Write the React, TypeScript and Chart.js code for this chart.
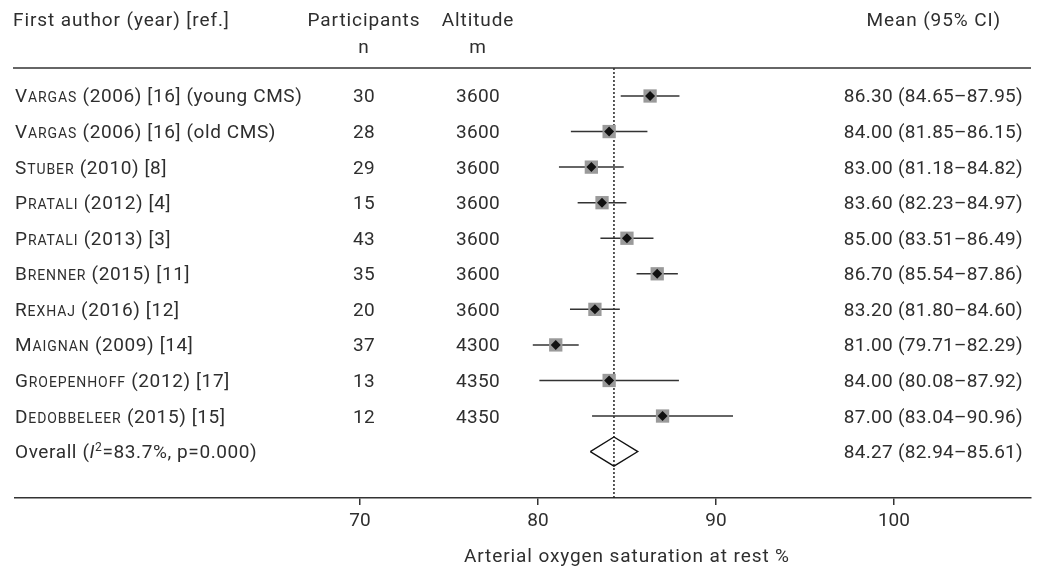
import React, { useEffect, useRef } from "react";
import { Chart, registerables } from "chart.js";

Chart.register(...registerables);

// ---------- data ----------
const authors = ["Vargas", "Vargas", "Stuber", "Pratali", "Pratali", "Brenner", "Rexhaj", "Maignan", "Groepenhoff", "Dedobbeleer"];
const authorSuffix = [
  " (2006) [16] (young CMS)",
  " (2006) [16] (old CMS)",
  " (2010) [8]",
  " (2012) [4]",
  " (2013) [3]",
  " (2015) [11]",
  " (2016) [12]",
  " (2009) [14]",
  " (2012) [17]",
  " (2015) [15]",
];
const participants = [30, 28, 29, 15, 43, 35, 20, 37, 13, 12];
const altitudes = [3600, 3600, 3600, 3600, 3600, 3600, 3600, 4300, 4350, 4350];
const means = [86.3, 84.0, 83.0, 83.6, 85.0, 86.7, 83.2, 81.0, 84.0, 87.0];
const lowerCI = [84.65, 81.85, 81.18, 82.23, 83.51, 85.54, 81.8, 79.71, 80.08, 83.04];
const upperCI = [87.95, 86.15, 84.82, 84.97, 86.49, 87.86, 84.6, 82.29, 87.92, 90.96];
const overallMean = 84.27;
const overallLower = 82.94;
const overallUpper = 85.61;
const overallI2 = "83.7%";
const overallP = "0.000";
const xTicks = [70, 80, 90, 100];
const xTitle = "Arterial oxygen saturation at rest %";

// ---------- style ----------
const FONT = 'Roboto, "DejaVu Sans", sans-serif';
const TEXT = "#2e2e2e";
const LINE = "#333333";
const SQUARE = "#9a9a9a";
const FS = 19;
const WORD_SP = "0.9px";
const SUFFIX_SP = "0.6px";
const NUM_SP = "0.3px";

const X_MIN = 50.62;
const X_MAX = 107.7;
const Y_MIN = 0.2126;
const Y_MAX = 12.305;
const overallRow = authors.length + 1;

const COL_NAME = 15;
const COL_N = 364;
const COL_ALT = 478;
const COL_VAL = 1023;

function fmt(v: number) {
  return v.toFixed(2);
}

function drawSmallCaps(ctx: any, word: string, x: number, y: number) {
  let cx = x;
  ctx.font = `${FS}px ${FONT}`;
  const first = word[0].toUpperCase();
  ctx.fillText(first, cx, y);
  cx += ctx.measureText(first).width;
  ctx.font = `${Math.round(FS * 0.76)}px ${FONT}`;
  const rest = word.slice(1).toUpperCase();
  ctx.fillText(rest, cx, y);
  cx += ctx.measureText(rest).width;
  ctx.font = `${FS}px ${FONT}`;
  return cx;
}

const textPlugin = {
  id: "forestText",
  afterDraw(chart: any) {
    const ctx: any = chart.ctx;
    const { left, right, top } = chart.chartArea;
    const ys = chart.scales.y;
    const xs = chart.scales.x;
    ctx.save();
    ctx.fillStyle = TEXT;
    ctx.textBaseline = "alphabetic";
    ctx.font = `${FS}px ${FONT}`;
    ctx.letterSpacing = WORD_SP;

    // header
    const hy = 26;
    ctx.textAlign = "left";
    ctx.fillText("First author (year) [ref.]", 13, hy);
    ctx.textAlign = "center";
    ctx.fillText("Participants", COL_N, hy);
    ctx.fillText("n", COL_N, 53);
    ctx.fillText("Altitude", COL_ALT, hy);
    ctx.fillText("m", COL_ALT, 53);
    ctx.textAlign = "right";
    ctx.fillText("Mean (95% CI)", 1001, hy);

    // header rule
    ctx.strokeStyle = LINE;
    ctx.lineWidth = 1.5;
    ctx.beginPath();
    ctx.moveTo(left - 2, top);
    ctx.lineTo(right, top);
    ctx.stroke();

    // rows
    authors.forEach((a, i) => {
      const y = ys.getPixelForValue(i + 1) + 6.5;
      ctx.textAlign = "left";
      ctx.letterSpacing = WORD_SP;
      const cx = drawSmallCaps(ctx, a, COL_NAME, y);
      ctx.letterSpacing = SUFFIX_SP;
      ctx.fillText(authorSuffix[i], cx, y);
      ctx.letterSpacing = NUM_SP;
      ctx.textAlign = "center";
      ctx.fillText(String(participants[i]), COL_N, y);
      ctx.fillText(String(altitudes[i]), COL_ALT, y);
      ctx.textAlign = "right";
      ctx.fillText(`${fmt(means[i])} (${fmt(lowerCI[i])}\u2013${fmt(upperCI[i])})`, COL_VAL, y);
    });

    // overall row
    const oy = ys.getPixelForValue(overallRow) + 6.5;
    ctx.textAlign = "left";
    ctx.letterSpacing = SUFFIX_SP;
    let cx = COL_NAME;
    ctx.font = `${FS}px ${FONT}`;
    ctx.fillText("Overall (", cx, oy);
    cx += ctx.measureText("Overall (").width;
    ctx.font = `italic ${FS}px ${FONT}`;
    ctx.fillText("I", cx, oy);
    cx += ctx.measureText("I").width;
    ctx.font = `${Math.round(FS * 0.65)}px ${FONT}`;
    ctx.fillText("2", cx, oy - 7);
    cx += ctx.measureText("2").width;
    ctx.font = `${FS}px ${FONT}`;
    ctx.fillText(`=${overallI2}, p=${overallP})`, cx, oy);
    ctx.letterSpacing = NUM_SP;
    ctx.textAlign = "right";
    ctx.fillText(`${fmt(overallMean)} (${fmt(overallLower)}\u2013${fmt(overallUpper)})`, COL_VAL, oy);

    // axis title
    ctx.letterSpacing = WORD_SP;
    ctx.textAlign = "center";
    const tx = (xs.getPixelForValue(xTicks[0]) + xs.getPixelForValue(xTicks[xTicks.length - 1])) / 2;
    ctx.fillText(xTitle, tx, 562);
    ctx.restore();
  },
};

export default function App() {
  const ref = useRef<HTMLCanvasElement | null>(null);

  useEffect(() => {
    if (!ref.current) return;
    const rows = means.map((_, i) => i + 1);

    const ciSets = means.map((_, i) => ({
      type: "line" as const,
      data: [
        { x: lowerCI[i], y: rows[i] },
        { x: upperCI[i], y: rows[i] },
      ],
      showLine: true,
      borderColor: LINE,
      borderWidth: 1.5,
      pointRadius: 0,
      fill: false,
      order: 3,
    }));

    const chart = new Chart(ref.current, {
      type: "scatter",
      data: {
        datasets: [
          {
            data: means.map((m, i) => ({ x: m, y: rows[i] })),
            pointStyle: "rectRot",
            pointRadius: 5,
            backgroundColor: "#111111",
            borderWidth: 0,
            order: 0,
          } as any,
          {
            data: means.map((m, i) => ({ x: m, y: rows[i] })),
            pointStyle: "rect",
            pointRadius: 9.4,
            backgroundColor: SQUARE,
            borderWidth: 0,
            order: 1,
          },
          {
            type: "line",
            data: [
              { x: overallLower, y: overallRow },
              { x: overallMean, y: overallRow - 0.41 },
              { x: overallUpper, y: overallRow },
              { x: overallMean, y: overallRow + 0.41 },
              { x: overallLower, y: overallRow },
            ],
            showLine: true,
            borderColor: "#111111",
            borderWidth: 1.3,
            pointRadius: 0,
            fill: false,
            tension: 0,
            order: 2,
          },
          ...ciSets,
          {
            type: "line",
            data: [
              { x: overallMean, y: Y_MIN },
              { x: overallMean, y: Y_MAX },
            ],
            showLine: true,
            borderColor: "#222222",
            borderWidth: 1.5,
            borderDash: [2, 2],
            pointRadius: 0,
            fill: false,
            order: 4,
          },
        ] as any,
      },
      options: {
        responsive: false,
        animation: false,
        devicePixelRatio: 1,
        events: [],
        layout: { padding: { top: 68, left: 15, right: 9, bottom: 0 }, autoPadding: false },
        plugins: { legend: { display: false }, tooltip: { enabled: false } },
        scales: {
          x: {
            type: "linear",
            min: X_MIN,
            max: X_MAX,
            afterBuildTicks: (s: any) => {
              s.ticks = xTicks.map((v) => ({ value: v }));
            },
            afterFit: (s: any) => {
              s.height = 72;
            },
            grid: { drawOnChartArea: false, drawTicks: true, tickLength: 7, color: LINE, lineWidth: 1.5 },
            border: { display: true, color: LINE, width: 1.5 },
            ticks: { color: TEXT, font: { family: FONT, size: FS }, padding: 5, maxRotation: 0 },
          },
          y: {
            type: "linear",
            display: false,
            reverse: true,
            min: Y_MIN,
            max: Y_MAX,
          },
        },
      } as any,
      plugins: [textPlugin],
    });
    return () => chart.destroy();
  }, []);

  return (
    <div style={{ position: "fixed", left: 0, top: 0, width: 1040, height: 570, background: "#ffffff" }}>
      <canvas ref={ref} width={1040} height={570} style={{ width: 1040, height: 570, display: "block" }} />
    </div>
  );
}
